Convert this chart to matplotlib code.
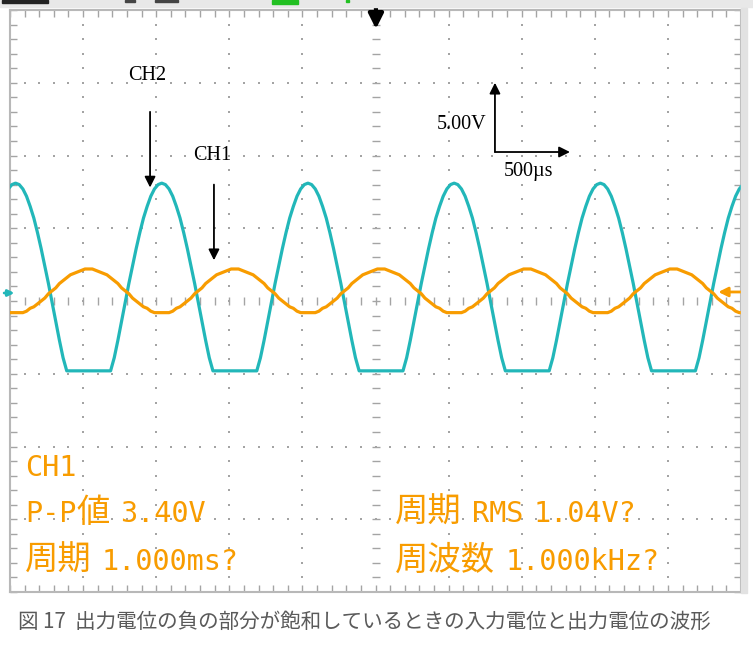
import numpy as np
import matplotlib
matplotlib.use('Agg')
import matplotlib.pyplot as plt
from matplotlib.patches import Rectangle

plt.rcParams['font.family'] = ['Noto Sans CJK JP', 'DejaVu Sans']

# scope settings (500us/div, 5V/div, 10 x 8 divisions)
t_div = 500
v_div = 5

# one period of each channel, 40 samples per 1.000ms (V)
dt = 25.0
t0 = 38.0   # time of the CH1 peak (us)
ch1_period = [2.2, 2.2, 2.1, 2.0, 1.9, 1.8, 1.6, 1.4, 1.2, 0.9, 0.7, 0.5, 0.2, 0.0,
              -0.2, -0.4, -0.5, -0.7, -0.8, -0.8, -0.8, -0.8, -0.8, -0.7, -0.5, -0.4,
              -0.2, 0.0, 0.2, 0.5, 0.7, 0.9, 1.2, 1.4, 1.6, 1.8, 1.9, 2.0, 2.1, 2.2]
ch2_period = [-4.8, -4.8, -4.8, -4.8, -4.8, -4.8, -4.8, -3.9, -2.7, -1.4, -0.1, 1.2,
              2.4, 3.6, 4.7, 5.7, 6.5, 7.2, 7.7, 8.0, 8.1, 8.0, 7.7, 7.2, 6.5, 5.7,
              4.7, 3.6, 2.4, 1.2, -0.1, -1.4, -2.7, -3.9, -4.8, -4.8, -4.8, -4.8,
              -4.8, -4.8]
n_periods = 7

# measurement readout
meas_ch = 'CH1'
meas_left = ['P-P値 3.40V', '周期 1.000ms?']
meas_right = ['周期 RMS 1.04V?', '周波数 1.000kHz?']
caption = '図 17  出力電位の負の部分が飽和しているときの入力電位と出力電位の波形'

orange = '#f89c00'
cyan = '#22b7b9'
grey = '#a4a4a4'

W, H = 753, 653
def px(x, y):
    return x / W, 1 - y / H

fig = plt.figure(figsize=(W / 100, H / 100), dpi=100)

# strip of the scope toolbar cut off at the top
def fig_rect(x, y, w, h, c, z=0):
    fig.patches.append(Rectangle(px(x, y + h), w / W, h / H, transform=fig.transFigure,
                                 color=c, zorder=z))
fig_rect(0, 0, W, 7, '#e8e8e8')
fig_rect(2, 0, 46, 3, '#222222', 1)
fig_rect(125, 0, 10, 2, '#444444', 1)
fig_rect(155, 0, 23, 2, '#444444', 1)
fig_rect(272, 0, 26, 4, '#22c022', 1)
fig_rect(346, 0, 3, 2, '#22c022', 1)
fig_rect(741, 8, 6, 585, '#e2e2e2')

ax = fig.add_axes([10 / W, (H - 592) / H, 731 / W, 582 / H])
ax.set_xlim(-5 * t_div, 5 * t_div)
ax.set_ylim(-4 * v_div, 4 * v_div)

# edge ticks
ax.set_xticks(np.arange(-5, 6) * t_div)
ax.set_yticks(np.arange(-4, 5) * v_div)
ax.set_xticks(np.arange(-25, 26) * t_div / 5, minor=True)
ax.set_yticks(np.arange(-20, 21) * v_div / 5, minor=True)
ax.tick_params(which='both', direction='in', length=5, width=1, color=grey,
               top=True, right=True, labelbottom=False, labelleft=False)
for s in ax.spines.values():
    s.set_color('#b8b8b8')
    s.set_linewidth(1.5)

# dotted grid
minor_t = np.arange(-24, 25) * t_div / 5
minor_v = np.arange(-19, 20) * v_div / 5
for k in range(-4, 5):
    if k == 0:
        ax.plot(np.zeros_like(minor_v), minor_v, ls='none', marker='_', ms=6,
                mew=1, color=grey)
    else:
        ax.plot(np.full_like(minor_v, k * t_div), minor_v, ls='none', marker='s',
                ms=1.5, mew=0, color=grey)
for k in range(-3, 4):
    if k == 0:
        ax.plot(minor_t, np.zeros_like(minor_t), ls='none', marker='|', ms=6,
                mew=1, color=grey)
    else:
        ax.plot(minor_t, np.full_like(minor_t, k * v_div), ls='none', marker='s',
                ms=1.5, mew=0, color=grey)

# waveforms
n = len(ch1_period)
t = t0 + dt * np.arange(n * n_periods) - 4 * n * dt
ch1 = np.tile(ch1_period, n_periods)
ch2 = np.tile(ch2_period, n_periods)
ax.plot(t, ch2, color=cyan, lw=2.3, zorder=5)
ax.plot(t, ch1, color=orange, lw=2.3, zorder=6)

# annotations
arrow = dict(arrowstyle='-|>', color='k', lw=1.3, mutation_scale=16,
             shrinkA=0, shrinkB=0)
serif = ['Liberation Serif', 'DejaVu Serif']
ax.annotate('', xy=(-1542, 7.8), xytext=(-1542, 13.0), arrowprops=arrow)
ax.text(-1560, 15.5, 'CH2', ha='center', va='center', fontsize=14.5, family=serif)
ax.annotate('', xy=(-1105, 2.8), xytext=(-1105, 8.0), arrowprops=arrow)
ax.text(-1118, 10.0, 'CH1', ha='center', va='center', fontsize=14.5, family=serif)
ax.annotate('', xy=(817, 15.0), xytext=(817, 10.24), arrowprops=arrow)
ax.annotate('', xy=(1330, 10.24), xytext=(817, 10.24), arrowprops=arrow)
ax.text(760, 12.1, '5.00V', ha='right', va='center', fontsize=14.5, family=serif)
ax.text(1045, 8.9, '500µs', ha='center', va='center', fontsize=14.5, family=serif)

# trigger and ground markers
ax.annotate('', xy=(3, 18.7), xytext=(3, 20.3), annotation_clip=False,
            arrowprops=dict(arrowstyle='-|>', color='k', lw=3, mutation_scale=22,
                            shrinkA=0, shrinkB=0))
ax.annotate('', xy=(2345, 0.62), xytext=(2500, 0.62), annotation_clip=False,
            arrowprops=dict(arrowstyle='-|>', color=orange, lw=2, mutation_scale=14,
                            shrinkA=0, shrinkB=0))
ax.annotate('', xy=(-2470, 0.55), xytext=(-2540, 0.55), annotation_clip=False,
            arrowprops=dict(arrowstyle='-|>', color=cyan, lw=2, mutation_scale=9,
                            shrinkA=0, shrinkB=0))

# readout text: CJK glyphs large, latin glyphs in a monospaced face
renderer = fig.canvas.get_renderer()
def is_cjk(ch):
    return ord(ch) > 0x2e80

def readout(x, y, s):
    runs = []
    for ch in s:
        c = 'sp' if ch == ' ' else is_cjk(ch)
        if runs and runs[-1][0] == c:
            runs[-1][1] += ch
        else:
            runs.append([c, ch])
    for c, txt in runs:
        if c == 'sp':
            x += 10 * len(txt)
            continue
        if c:
            tx = fig.text(*px(x, y), txt, color=orange, fontsize=24, va='baseline',
                          family='Noto Sans CJK JP')
        else:
            tx = fig.text(*px(x, y), txt, color=orange, fontsize=20.5, va='baseline',
                          family='DejaVu Sans Mono')
        x += tx.get_window_extent(renderer).width

readout(25, 476, meas_ch)
rows_y = [522, 570]
for s, y in zip(meas_left, rows_y):
    readout(25, y, s)
for s, y in zip(meas_right, rows_y):
    readout(395, y, s)

fig.text(*px(18, 622), caption, color='#5a5a5a', fontsize=14.8, va='center')

fig.savefig('out.png', dpi=100)
